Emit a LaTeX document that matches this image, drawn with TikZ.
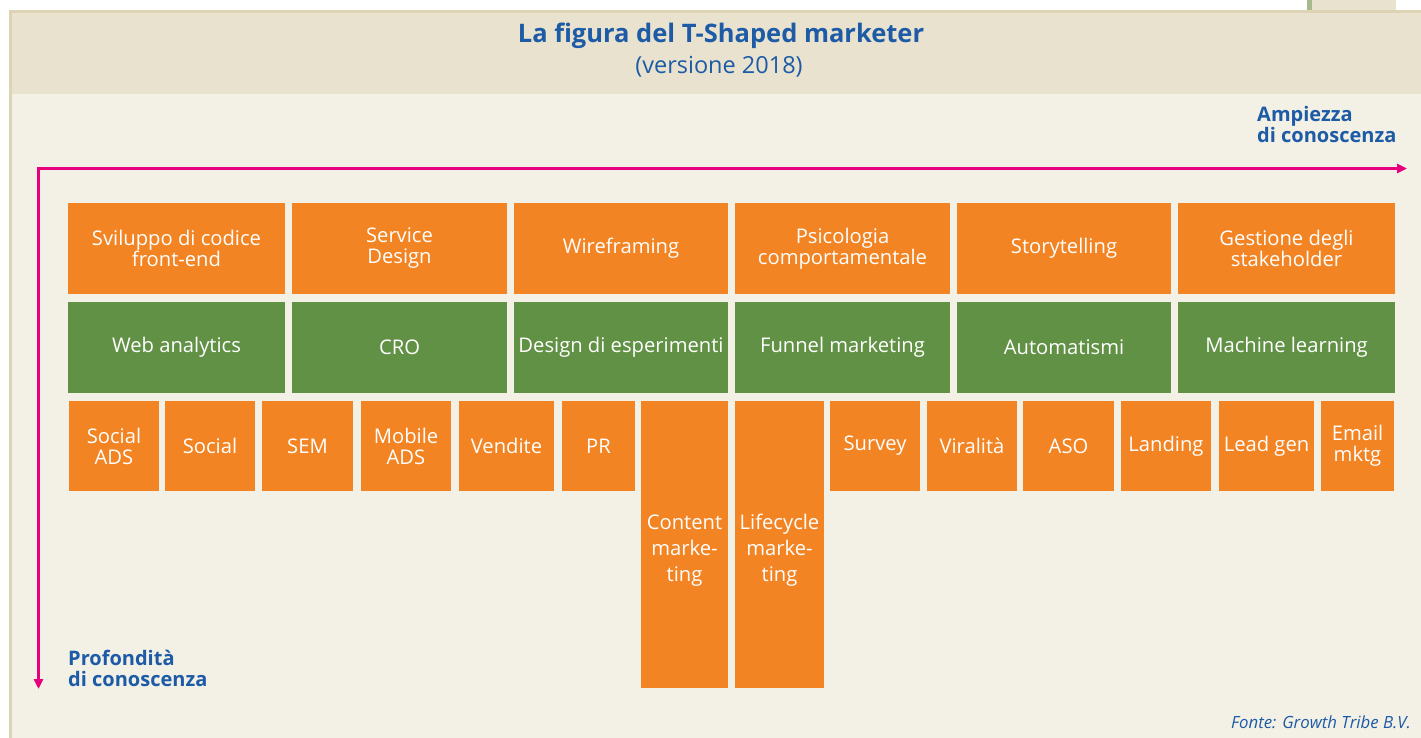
\documentclass[tikz,border=0pt]{standalone}
\usepackage{fontspec}
\setmainfont{Open Sans}
\usetikzlibrary{arrows.meta}
\definecolor{tsorange}{HTML}{F38423}
\definecolor{tsgreen}{HTML}{619145}
\definecolor{tsblue}{HTML}{1D5BA6}
\definecolor{tspink}{HTML}{E6007E}
\definecolor{bandbg}{HTML}{E8E2CF}
\definecolor{bodybg}{HTML}{F3F0E6}
\definecolor{framebg}{HTML}{DCD4B4}
\definecolor{tabstrip}{HTML}{A8B98E}

% a filled cell given by its corners (x1,y1) and (x2,y2)
\newcommand\tcell[7]{%
  \pgfmathsetmacro\cellw{#5-#3}\pgfmathsetmacro\cellh{#6-#4}%
  \node[#2, minimum width=\cellw pt, minimum height=\cellh pt] (#1) at ({(#3+#5)/2},{(#4+#6)/2}) {#7};}
% taller first line, pushes a stacked label a little lower
\newcommand\lowstrut{\rule{0pt}{27pt}}

\begin{document}
\begin{tikzpicture}[x=1pt,y=-1pt,
  cell/.style={inner sep=0pt, text=white, align=center, font=\fontsize{20.2}{21}\selectfont},
  obox/.style={cell, fill=tsorange},
  gbox/.style={cell, fill=tsgreen},
  tallbox/.style={obox, font=\fontsize{20.2}{26}\selectfont},
  axis/.style={draw=tspink, line width=3pt,
    {Triangle[length=10pt,width=9pt]}-{Triangle[length=10pt,width=9pt]}},
  axlabel/.style={text=tsblue, font=\bfseries\fontsize{20}{21}\selectfont, align=left, inner sep=0pt},
]
\useasboundingbox (0,0) rectangle (1421,738);

% frame, title band and body
\fill[white] (0,0) rectangle (1421,738);
\fill[bandbg] (1307,0) rectangle (1396,12);
\fill[tabstrip] (1307,0) rectangle (1312,12);
\fill[framebg] (9,10) rectangle (1421,738);
\fill[bandbg] (12,13) rectangle (1421,94);
\fill[bodybg] (12,94) rectangle (1421,738);

% title
\node[anchor=base, text=tsblue, font=\bfseries\fontsize{25.5}{28}\selectfont, inner sep=0pt]
  (title) at (721,43) {La figura del T-Shaped marketer};
\node[anchor=base, text=tsblue, font=\fontsize{23.5}{26}\selectfont, inner sep=0pt]
  (subtitle) at (719,74) {(versione 2018)};

% axes
\coordinate (axh) at (1407,168.5);
\coordinate (corner) at (38.5,168.5);
\coordinate (axv) at (38.5,689);
\draw[axis] (axh) -- (corner) -- (axv);

\node[axlabel, anchor=base west] (wide1) at (1257,122) {Ampiezza};
\node[axlabel, anchor=base west] (wide2) at (1257,143) {di conoscenza};
\node[axlabel, anchor=base west] (deep1) at (68,665) {Profondità};
\node[axlabel, anchor=base west] (deep2) at (68,686) {di conoscenza};

% broad skills
\tcell{a1}{obox}{68}{203}{285}{294}{Sviluppo di codice\\front-end}
\tcell{a2}{obox}{292}{203}{507}{294}{Service\\Design}
\tcell{a3}{obox}{514}{203}{728}{294}{Wireframing}
\tcell{a4}{obox}{735}{203}{950}{294}{Psicologia\\comportamentale}
\tcell{a5}{obox}{957}{203}{1171}{294}{Storytelling}
\tcell{a6}{obox}{1178}{203}{1395}{294}{Gestione degli\\stakeholder}

% core skills
\tcell{b1}{gbox}{68}{302}{285}{393}{Web analytics}
\tcell{b2}{gbox}{292}{302}{507}{393}{CRO}
\tcell{b3}{gbox}{514}{302}{728}{393}{Design di esperimenti}
\tcell{b4}{gbox}{735}{302}{950}{393}{Funnel marketing}
\tcell{b5}{gbox}{957}{302}{1171}{393}{Automatismi}
\tcell{b6}{gbox}{1178}{302}{1395}{393}{Machine learning}

% channels
\tcell{c1}{obox}{69}{401}{159}{491}{Social\\ADS}
\tcell{c2}{obox}{165}{401}{255}{491}{Social}
\tcell{c3}{obox}{262}{401}{353}{491}{SEM}
\tcell{c4}{obox}{361}{401}{451}{491}{Mobile\\ADS}
\tcell{c5}{obox}{459}{401}{554}{491}{Vendite}
\tcell{c6}{obox}{562}{401}{635}{491}{PR}
\tcell{c7}{tallbox}{641}{401}{728}{688}{\lowstrut Content\\marke-\\ting}
\tcell{c8}{tallbox}{735}{401}{824}{688}{\lowstrut Lifecycle\\marke-\\ting}
\tcell{c9}{obox}{830}{401}{920}{491}{Survey}
\tcell{c10}{obox}{927}{401}{1017}{491}{Viralità}
\tcell{c11}{obox}{1023}{401}{1114}{491}{ASO}
\tcell{c12}{obox}{1121}{401}{1211}{491}{Landing}
\tcell{c13}{obox}{1219}{401}{1314}{491}{Lead gen}
\tcell{c14}{obox}{1321}{401}{1394}{491}{Email\\mktg}

% source
\node[anchor=base east, text=tsblue, font=\itshape\fontsize{16.8}{19}\selectfont, inner sep=0pt]
  (source) at (1411,728) {Fonte: Growth Tribe B.V.};
\end{tikzpicture}
\end{document}
